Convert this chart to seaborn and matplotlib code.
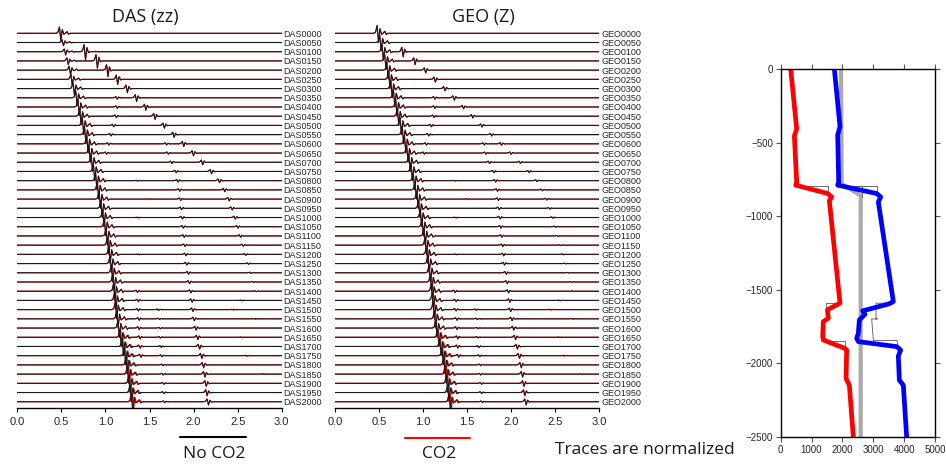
import numpy as np
import pandas as pd
import matplotlib
matplotlib.use('Agg')
import matplotlib.pyplot as plt
from matplotlib.lines import Line2D
import seaborn as sns

# ---- trace panels: arrival times (s) read per trace, 41 traces DAS/GEO0000..2000 ----
TRACE_DEPTHS = [f'{d:04d}' for d in range(0, 2001, 50)]

ARRIVAL_A = [0.49, 0.52, 0.545, 0.575, 0.60, 0.62, 0.645, 0.675, 0.70, 0.72,
             0.75, 0.775, 0.80, 0.825, 0.85, 0.875, 0.90, 0.92, 0.94, 0.96,
             0.98, 1.00, 1.02, 1.035, 1.05, 1.065, 1.08, 1.095, 1.105, 1.115,
             1.125, 1.14, 1.155, 1.175, 1.20, 1.225, 1.245, 1.26, 1.275, 1.29,
             1.305]
ARRIVAL_A_CO2 = [0.49, 0.52, 0.545, 0.575, 0.60, 0.62, 0.645, 0.675, 0.70, 0.72,
                 0.75, 0.775, 0.80, 0.825, 0.85, 0.875, 0.90, 0.92, 0.94, 0.96,
                 0.98, 1.00, 1.02, 1.035, 1.05, 1.065, 1.08, 1.095, 1.105, 1.115,
                 1.125, 1.14, 1.155, 1.185, 1.21, 1.235, 1.255, 1.27, 1.285, 1.30,
                 1.315]
AMP_A_DAS = [0.8, 0.35, 0.35, 0.4, 0.5, 0.65, 0.75, 0.85, 0.9, 0.95,
             1.0, 1.0, 1.0, 1.0, 1.0, 1.0, 1.0, 1.0, 1.0, 1.0,
             1.0, 1.0, 1.0, 1.0, 1.0, 1.0, 1.0, 1.0, 1.0, 1.0,
             1.0, 1.0, 1.0, 1.0, 1.0, 1.0, 1.0, 1.0, 1.0, 1.0,
             1.0]
AMP_A_GEO = [1.0, 0.9, 0.9, 0.9, 0.95, 1.0, 1.0, 1.0, 1.0, 1.0,
             1.0, 1.0, 1.0, 1.0, 1.0, 1.0, 1.0, 1.0, 1.0, 1.0,
             1.0, 1.0, 1.0, 1.0, 1.0, 1.0, 1.0, 1.0, 1.0, 1.0,
             1.0, 1.0, 1.0, 1.0, 1.0, 1.0, 1.0, 1.0, 1.0, 1.0,
             1.0]

B_FIRST = 1
ARRIVAL_B = [0.645, 0.77, 0.905, 1.025, 1.135, 1.245, 1.35, 1.455, 1.56, 1.665,
             1.775, 1.885, 1.995, 2.10, 2.20, 2.29, 2.35, 2.40, 2.435, 2.47,
             2.50, 2.53, 2.56, 2.59, 2.62, 2.65, 2.68, 2.71]
AMP_B_DAS = [1.0, 0.9, 0.8, 0.7, 0.55, 0.45, 0.4, 0.35, 0.35, 0.3,
             0.3, 0.3, 0.3, 0.28, 0.25, 0.22, 0.2, 0.2, 0.18, 0.17,
             0.15, 0.14, 0.12, 0.1, 0.08, 0.07, 0.06, 0.05]
AMP_B_GEO = [0.9, 0.55, 0.4, 0.3, 0.3, 0.25, 0.25, 0.2, 0.2, 0.18,
             0.15, 0.15, 0.14, 0.13, 0.12, 0.11, 0.1, 0.1, 0.09, 0.08,
             0.07, 0.06, 0.05, 0.05, 0.04, 0.04, 0.03, 0.03]

C_FIRST = 12
ARRIVAL_C = [1.69, 1.71, 1.75, 1.80, 1.82, 1.84, 1.85, 1.86, 1.87, 1.88,
             1.89, 1.90, 1.91, 1.92, 1.94, 1.95, 1.965, 1.98, 1.99, 2.005,
             2.025, 2.045, 2.065, 2.09, 2.11, 2.125, 2.14, 2.15, 2.165]
AMP_C = [0.12, 0.13, 0.14, 0.14, 0.15, 0.15, 0.15, 0.15, 0.15, 0.15,
         0.15, 0.15, 0.15, 0.16, 0.16, 0.17, 0.18, 0.19, 0.2, 0.2,
         0.22, 0.24, 0.25, 0.27, 0.28, 0.3, 0.3, 0.32, 0.32]
AMP_C_CO2 = [0.12, 0.13, 0.14, 0.14, 0.15, 0.15, 0.15, 0.15, 0.15, 0.15,
             0.15, 0.15, 0.15, 0.16, 0.16, 0.17, 0.18, 0.19, 0.2, 0.22,
             0.24, 0.27, 0.3, 0.32, 0.34, 0.36, 0.36, 0.38, 0.38]

D_FIRST = 7
ARRIVAL_D = [1.13, 1.13, 1.12, 1.09, 1.06, 1.035, 1.01, 0.995]
AMP_D = [0.15, 0.15, 0.15, 0.14, 0.14, 0.13, 0.13, 0.12]

F_FIRST = 30
ARRIVAL_F = [1.60, 1.61, 1.62, 1.62, 1.63, 1.64, 1.65, 1.65, 1.66, 1.66, 1.67]
AMP_F = [0.08, 0.08, 0.08, 0.08, 0.1, 0.1, 0.1, 0.1, 0.1, 0.1, 0.1]

G_FIRST = 28
ARRIVAL_G = [1.36, 1.37, 1.37, 1.38, 1.38, 1.39, 1.39, 1.40]
AMP_G = [0.12, 0.12, 0.12, 0.14, 0.14, 0.15, 0.15, 0.15]
AMP_G_CO2 = [0.15, 0.16, 0.17, 0.18, 0.2, 0.2, 0.2, 0.2]

RED_BLIP_TRACE = [16, 18, 20, 22, 24, 26, 29, 30, 31, 33, 35, 37]
RED_BLIP_TIME = [1.36, 1.50, 1.37, 2.62, 1.38, 2.65, 2.55, 2.45, 2.70, 2.55, 2.60, 2.80]

# wavelet shape (offset s, relative amplitude)
WAVELET_T = [-0.05, -0.03, -0.012, 0.004, 0.02, 0.038, 0.055]
WAVELET_V = [0.0, 0.12, 0.85, -1.0, 0.5, -0.12, 0.0]
CODA_T = [0.075, 0.092, 0.11]
CODA_V = [0.22, -0.12, 0.0]

# ---- right panel: velocity profiles (m/s) vs depth (m) ----
VS = [324, 518, 443, 518, 486, 1523, 1652, 1577, 1922, 1512, 1544, 1382, 1361,
      1382, 2084, 2138, 2117, 2225, 2354]
VS_DEPTH = [0, -407, -455, -767, -789, -846, -869, -896, -1591, -1636, -1693,
            -1716, -1818, -1841, -1898, -1909, -2102, -2148, -2500]
VP = [1739, 1922, 1847, 1879, 1847, 3110, 3240, 3164, 3650, 3520, 2657, 2732,
      2549, 2516, 2462, 2516, 3758, 3888, 3812, 3845, 3974, 4082]
VP_DEPTH = [0, -391, -448, -767, -789, -846, -869, -903, -1580, -1595, -1643,
            -1666, -1705, -1795, -1830, -1852, -1886, -1909, -1950, -2114,
            -2148, -2500]
RHO = [1955, 1976, 2592, 2592]
RHO_DEPTH = [0, -780, -860, -2500]
MODEL_SEG = [0, 0, 0, 1, 1, 1, 1, 1, 1, 1, 1, 2, 2, 2, 3, 3, 3, 3, 3, 3, 3, 3, 4, 4, 4]
MODEL_X = [486, 1523, 1523, 1922, 1469, 1469, 1361, 1361, 2084, 2084, 2084,
           1879, 3110, 3110, 3650, 3089, 3089, 3132, 2948, 3002, 3780, 3780,
           1990, 2640, 2640]
MODEL_DEPTH = [-792, -792, -846, -1591, -1591, -1698, -1698, -1845, -1845, -1898, -1898,
               -792, -792, -846, -1591, -1591, -1698, -1698, -1698, -1845, -1845, -1886,
               -792, -792, -870]


def build_trace(events):
    t, v, end = [0.0], [0.0], 0.0
    for t0, amp, wt, wv in sorted(events, key=lambda e: e[0]):
        if t0 + wt[0] <= end:
            continue
        t.extend(t0 + d for d in wt)
        v.extend(amp * w for w in wv)
        end = t0 + wt[-1]
    t.append(3.0)
    v.append(0.0)
    return t, v


def branch(events, first, times, amps, i, wt, wv):
    k = i - first
    if 0 <= k < len(times):
        events.append((times[k], amps[k], wt, wv))


def traces_frame(amp_a, amp_b, co2=False):
    a_t = WAVELET_T + CODA_T
    a_v = WAVELET_V + CODA_V
    rows = []
    for i in range(len(TRACE_DEPTHS)):
        ev = [((ARRIVAL_A_CO2 if co2 else ARRIVAL_A)[i], amp_a[i], a_t, a_v)]
        branch(ev, B_FIRST, ARRIVAL_B, amp_b, i, WAVELET_T, WAVELET_V)
        branch(ev, C_FIRST, ARRIVAL_C, AMP_C_CO2 if co2 else AMP_C, i, WAVELET_T, WAVELET_V)
        branch(ev, D_FIRST, ARRIVAL_D, AMP_D, i, WAVELET_T, WAVELET_V)
        branch(ev, F_FIRST, ARRIVAL_F, AMP_F, i, WAVELET_T, WAVELET_V)
        branch(ev, G_FIRST, ARRIVAL_G, AMP_G_CO2 if co2 else AMP_G, i, WAVELET_T, WAVELET_V)
        if co2:
            for tr, tm in zip(RED_BLIP_TRACE, RED_BLIP_TIME):
                if tr == i:
                    ev.append((tm, 0.07, WAVELET_T, WAVELET_V))
        t, v = build_trace(ev)
        for j, (tt, vv) in enumerate(zip(t, v)):
            rows.append({'trace': i, 'order': j, 't': tt, 'y': -i + vv})
    return pd.DataFrame(rows)


sns.set_theme(style='white')
plt.rcParams['font.family'] = ['Liberation Sans', 'DejaVu Sans']

W, H = 946, 467
fig = plt.figure(figsize=(W / 100, H / 100), dpi=100)


def trace_axes(x0, prefix, amp_a, amp_b):
    ax = fig.add_axes([x0 / W, 1 - 408 / H, 264.4 / W, 383 / H])
    red = traces_frame(amp_a, amp_b, co2=True)
    blk = traces_frame(amp_a, amp_b, co2=False)
    sns.lineplot(data=red, x='t', y='y', units='trace', estimator=None, sort=False,
                 color='#ff0000', lw=0.75, ax=ax, legend=False)
    sns.lineplot(data=blk, x='t', y='y', units='trace', estimator=None, sort=False,
                 color='#1a1a1a', lw=0.8, ax=ax, legend=False)
    ax.set_xlim(0, 3)
    ax.set_ylim(-40.68, 0.9)
    ax.set_xticks([0, 0.5, 1.0, 1.5, 2.0, 2.5, 3.0])
    ax.set_xticklabels(['0.0', '0.5', '1.0', '1.5', '2.0', '2.5', '3.0'])
    ax.yaxis.tick_right()
    ax.set_yticks([-i for i in range(len(TRACE_DEPTHS))])
    ax.set_yticklabels([prefix + d for d in TRACE_DEPTHS])
    ax.tick_params(axis='y', length=0, pad=1.2, labelsize=6.5)
    ax.tick_params(axis='x', length=3, width=0.8, direction='out', pad=3.5,
                   labelsize=8, bottom=True, color='black')
    ax.set_xlabel('')
    ax.set_ylabel('')
    for s in ['left', 'right', 'top']:
        ax.spines[s].set_visible(False)
    ax.spines['bottom'].set_color('black')
    ax.spines['bottom'].set_linewidth(1.0)
    return ax


trace_axes(17.3, 'DAS', AMP_A_DAS, AMP_B_DAS)
trace_axes(335.0, 'GEO', AMP_A_GEO, AMP_B_GEO)

# velocity panel
ax3 = fig.add_axes([780.7 / W, 1 - 437 / H, 154.3 / W, 368 / H])
sns.lineplot(x=RHO, y=RHO_DEPTH, sort=False, estimator=None, color='#aaaaaa', lw=3.0, ax=ax3)
model = pd.DataFrame({'seg': MODEL_SEG, 'x': MODEL_X, 'z': MODEL_DEPTH})
sns.lineplot(data=model, x='x', y='z', units='seg', estimator=None, sort=False,
             color='#555555', lw=0.6, ax=ax3, legend=False)
sns.lineplot(x=VS, y=VS_DEPTH, sort=False, estimator=None, color='#ff0000', lw=3.4, ax=ax3)
sns.lineplot(x=VP, y=VP_DEPTH, sort=False, estimator=None, color='#0000ff', lw=3.4, ax=ax3)
ax3.set_xlim(0, 5000)
ax3.set_ylim(-2500, 0)
ax3.set_xticks([0, 1000, 2000, 3000, 4000, 5000])
ax3.set_yticks([0, -500, -1000, -1500, -2000, -2500])
ax3.tick_params(top=True, right=True, bottom=True, left=True, direction='out',
                length=3.5, width=0.8, color='#555555', labelsize=7, pad=2)
ax3.set_xlabel('')
ax3.set_ylabel('')
for s in ax3.spines.values():
    s.set_color('black')
    s.set_linewidth(1.0)

# titles and annotations
title_font = ['Open Sans', 'DejaVu Sans']
fig.text(145 / W, 1 - 22 / H, 'DAS (zz)', ha='center', va='baseline', fontsize=13,
         family=title_font, color='#1a1a1a')
fig.text(483 / W, 1 - 22 / H, 'GEO (Z)', ha='center', va='baseline', fontsize=13,
         family=title_font, color='#1a1a1a')
fig.add_artist(Line2D([180 / W, 246 / W], [1 - 437 / H] * 2, color='black', lw=1.5))
fig.add_artist(Line2D([405 / W, 470 / W], [1 - 437.5 / H] * 2, color='#ff0000', lw=1.5))
fig.text(214 / W, 1 - 458 / H, 'No CO2', ha='center', va='baseline', fontsize=12.5,
         family=title_font, color='#1a1a1a')
fig.text(439 / W, 1 - 458 / H, 'CO2', ha='center', va='baseline', fontsize=12.5,
         family=title_font, color='#1a1a1a')
fig.text(645 / W, 1 - 454 / H, 'Traces are normalized', ha='center', va='baseline',
         fontsize=12.5, family=title_font, color='#1a1a1a')

fig.savefig('out.png', dpi=100)
